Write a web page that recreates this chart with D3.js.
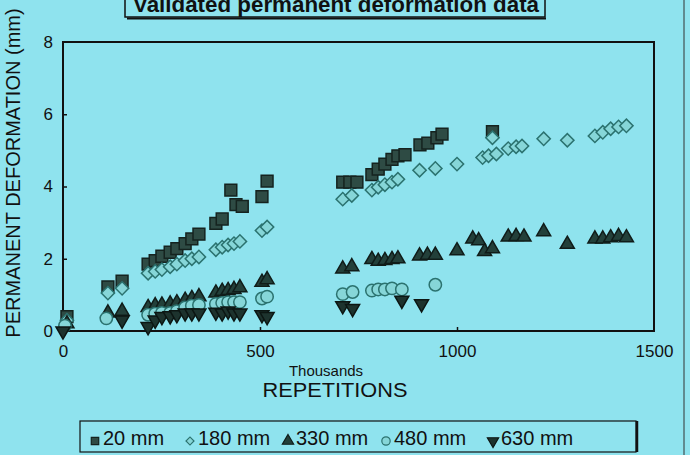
<!DOCTYPE html>
<html>
<head>
<meta charset="utf-8">
<script src="https://cdn.jsdelivr.net/npm/d3@7"></script>
<style>
	html, body { margin: 0; padding: 0; background: #8fe3ee; }
	svg { display: block; font-family: "Liberation Sans", Arial, sans-serif; }
	.axis text { fill: #111; font-size: 17px; }
	.axis line { stroke: #111; stroke-width: 1.5; }
</style>
</head>
<body>
<div id="chart"></div>
<script>
// thousands of repetitions, permanent deformation (mm)
const mm20 = [[10,0.4],[114,1.22],[150,1.38],[216,1.85],[234,1.95],[251,2.07],[272,2.18],[289,2.28],[310,2.42],[327,2.55],[345,2.68],[388,2.98],[404,3.1],[426,3.9],[439,3.5],[455,3.45],[505,3.72],[518,4.15],[710,4.12],[728,4.12],[746,4.12],[784,4.33],[800,4.48],[817,4.62],[835,4.75],[850,4.85],[868,4.88],[906,5.15],[926,5.2],[949,5.35],[962,5.45],[1090,5.52]];
const mm180 = [[10,0.3],[114,1.05],[150,1.18],[216,1.6],[234,1.65],[251,1.7],[272,1.78],[289,1.85],[310,1.95],[327,2.0],[345,2.05],[388,2.25],[404,2.32],[419,2.38],[434,2.42],[449,2.48],[505,2.78],[518,2.88],[710,3.65],[733,3.75],[784,3.9],[800,3.98],[817,4.05],[835,4.12],[850,4.2],[905,4.45],[945,4.5],[1000,4.62],[1065,4.8],[1080,4.85],[1090,5.35],[1100,4.9],[1130,5.05],[1150,5.1],[1165,5.12],[1220,5.32],[1280,5.28],[1350,5.4],[1370,5.5],[1390,5.6],[1410,5.65],[1430,5.68]];
const mm330 = [[10,0.2],[114,0.5],[150,0.55],[216,0.65],[234,0.7],[251,0.72],[272,0.75],[289,0.78],[310,0.85],[327,0.9],[345,0.95],[388,1.05],[404,1.1],[419,1.12],[434,1.15],[449,1.2],[505,1.35],[518,1.42],[710,1.72],[733,1.78],[784,1.98],[800,1.93],[817,1.95],[835,1.98],[850,2.0],[905,2.08],[925,2.1],[945,2.1],[1000,2.22],[1040,2.55],[1055,2.5],[1070,2.2],[1090,2.28],[1130,2.6],[1150,2.62],[1170,2.6],[1220,2.75],[1280,2.4],[1350,2.55],[1370,2.55],[1390,2.58],[1410,2.62],[1430,2.58]];
const mm480 = [[5,0.15],[110,0.35],[216,0.45],[234,0.48],[251,0.5],[272,0.5],[289,0.55],[310,0.65],[327,0.7],[345,0.72],[388,0.75],[404,0.78],[419,0.8],[434,0.8],[449,0.8],[505,0.9],[518,0.95],[710,1.02],[735,1.08],[784,1.12],[800,1.15],[817,1.15],[835,1.18],[860,1.15],[945,1.28]];
const mm630 = [[0,0.0],[150,0.3],[216,0.12],[234,0.3],[251,0.4],[272,0.42],[289,0.45],[310,0.5],[327,0.5],[345,0.5],[388,0.52],[404,0.5],[419,0.55],[434,0.5],[449,0.5],[505,0.45],[518,0.4],[710,0.7],[735,0.62],[860,0.85],[910,0.75]];

const depthNames = ['20 mm', '180 mm', '330 mm', '480 mm', '630 mm'];
const xTicks = [0, 500, 1000, 1500];
const yTicks = [0, 2, 4, 6, 8];

const W = 690, H = 455;
const svg = d3.select('#chart').append('svg')
	.attr('width', W).attr('height', H);

const x = d3.scaleLinear().domain([0, 1500]).range([63, 654]);
const y = d3.scaleLinear().domain([0, 8]).range([331, 42]);

const series = [
	{ name: depthNames[0], data: mm20, shape: d3.symbolSquare, size: 140, fill: '#2e4b44', stroke: '#15231f' },
	{ name: depthNames[1], data: mm180, shape: d3.symbolSquare, size: 88, rot: 45, fill: '#86d6d8', stroke: '#2b726f' },
	{ name: depthNames[2], data: mm330, shape: d3.symbolTriangle, size: 85, fill: '#23403a', stroke: '#101c19' },
	{ name: depthNames[3], data: mm480, shape: d3.symbolCircle, size: 120, fill: '#86d6d8', stroke: '#2b726f' },
	{ name: depthNames[4], data: mm630, shape: d3.symbolTriangle, size: 85, rot: 180, fill: '#1d332e', stroke: '#0c1613' },
];

// title box, cut off at the top
const title = svg.append('g');
title.append('rect')
	.attr('x', 125).attr('y', -6).attr('width', 420).attr('height', 23)
	.attr('fill', '#8fe3ee').attr('stroke', '#111').attr('stroke-width', 1.5);
title.append('line')
	.attr('x1', 127).attr('x2', 546).attr('y1', 18.5).attr('y2', 18.5)
	.attr('stroke', '#111').attr('stroke-width', 2);
title.append('text')
	.attr('x', 336).attr('y', 12)
	.attr('text-anchor', 'middle')
	.attr('font-size', 22).attr('font-weight', 'bold')
	.attr('textLength', 406).attr('lengthAdjust', 'spacingAndGlyphs')
	.attr('fill', '#111')
	.text('Validated permanent deformation data');

// frame
svg.append('rect')
	.attr('x', x(0)).attr('y', y(8))
	.attr('width', x(1500) - x(0)).attr('height', y(0) - y(8))
	.attr('fill', 'none').attr('stroke', '#111').attr('stroke-width', 2);

const gx = svg.append('g').attr('class', 'axis')
	.attr('transform', `translate(0,${y(0)})`)
	.call(d3.axisBottom(x).tickValues(xTicks).tickSize(-4).tickPadding(14).tickFormat(d3.format('d')));
gx.select('.domain').remove();
gx.selectAll('.tick line').filter(d => d === 0 || d === 1500).remove();

const gy = svg.append('g').attr('class', 'axis')
	.attr('transform', `translate(${x(0)},0)`)
	.call(d3.axisLeft(y).tickValues(yTicks).tickSize(-4).tickPadding(10));
gy.select('.domain').remove();
gy.selectAll('.tick line').filter(d => d === 0 || d === 8).remove();

// axis titles
svg.append('text')
	.attr('transform', `translate(20,173) rotate(-90)`)
	.attr('text-anchor', 'middle')
	.attr('font-size', 20).attr('fill', '#111')
	.text('PERMANENT DEFORMATION (mm)');
svg.append('text')
	.attr('x', 326).attr('y', 376)
	.attr('text-anchor', 'middle')
	.attr('font-size', 15).attr('fill', '#111')
	.text('Thousands');
svg.append('text')
	.attr('x', 335).attr('y', 397)
	.attr('text-anchor', 'middle')
	.attr('font-size', 20).attr('fill', '#111')
	.attr('textLength', 145).attr('lengthAdjust', 'spacingAndGlyphs')
	.text('REPETITIONS');

// points
const sym = d3.symbol();
series.forEach(s => {
	svg.append('g')
		.selectAll('path')
		.data(s.data)
		.join('path')
		.attr('transform', d => `translate(${x(d[0])},${y(d[1])})${s.rot ? ` rotate(${s.rot})` : ''}`)
		.attr('d', sym.type(s.shape).size(s.size)())
		.attr('fill', s.fill)
		.attr('stroke', s.stroke)
		.attr('stroke-width', 1.5);
});

// legend
const legend = svg.append('g');
legend.append('rect')
	.attr('x', 80).attr('y', 421).attr('width', 556).attr('height', 31)
	.attr('fill', 'none').attr('stroke', '#111').attr('stroke-width', 1.2);
legend.append('line')
	.attr('x1', 637).attr('x2', 637).attr('y1', 421).attr('y2', 452)
	.attr('stroke', '#111').attr('stroke-width', 2.5);
const legX = [95, 190, 288, 386, 493];
series.forEach((s, i) => {
	legend.append('path')
		.attr('transform', `translate(${legX[i]},${441})${s.rot ? ` rotate(${s.rot})` : ''}`)
		.attr('d', sym.type(s.shape).size(s.rot === 45 ? 32 : 55)())
		.attr('fill', s.fill).attr('stroke', s.stroke).attr('stroke-width', 1.2);
	legend.append('text')
		.attr('x', legX[i] + 8).attr('y', 445)
		.attr('font-size', 20).attr('fill', '#111')
		.text(s.name);
});

// edge of the scanned page
svg.append('line')
	.attr('x1', 684).attr('x2', 684).attr('y1', 0).attr('y2', H)
	.attr('stroke', '#333').attr('stroke-width', 1);
</script>
</body>
</html>
